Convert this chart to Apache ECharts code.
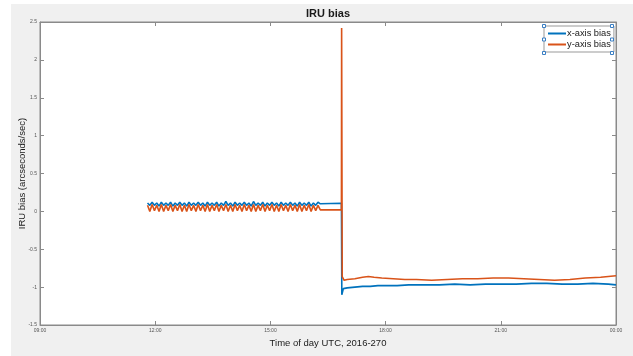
<!DOCTYPE html>
<html>
<head>
<meta charset="utf-8">
<script src="https://cdn.jsdelivr.net/npm/echarts@6/dist/echarts.min.js"></script>
<style>
  html, body { margin: 0; padding: 0; background: #fff; }
  #main { width: 622px; height: 352px; background: #f0f0f0; border-left: 11px solid #fff; border-top: 4px solid #fff; }
</style>
</head>
<body>
<div id="main"></div>
<script>
// hours of day (2016-270), oscillating part before the event
var hoursOsc = [11.80, 11.86, 11.92, 11.98, 12.04, 12.10, 12.16, 12.22, 12.28, 12.34,
  12.40, 12.46, 12.52, 12.58, 12.64, 12.70, 12.76, 12.82, 12.88, 12.94,
  13.00, 13.06, 13.12, 13.18, 13.24, 13.30, 13.36, 13.42, 13.48, 13.54,
  13.60, 13.66, 13.72, 13.78, 13.84, 13.90, 13.96, 14.02, 14.08, 14.14,
  14.20, 14.26, 14.32, 14.38, 14.44, 14.50, 14.56, 14.62, 14.68, 14.74,
  14.80, 14.86, 14.92, 14.98, 15.04, 15.10, 15.16, 15.22, 15.28, 15.34,
  15.40, 15.46, 15.52, 15.58, 15.64, 15.70, 15.76, 15.82, 15.88, 15.94,
  16.00, 16.06, 16.12, 16.18, 16.24, 16.30];
var xBiasOsc = [0.11, 0.08, 0.12, 0.08, 0.11, 0.07, 0.12, 0.08, 0.11, 0.08,
  0.12, 0.07, 0.11, 0.08, 0.12, 0.08, 0.11, 0.07, 0.12, 0.08,
  0.11, 0.08, 0.12, 0.08, 0.11, 0.07, 0.12, 0.08, 0.11, 0.08,
  0.12, 0.07, 0.11, 0.08, 0.13, 0.08, 0.11, 0.07, 0.12, 0.08,
  0.11, 0.08, 0.12, 0.08, 0.11, 0.07, 0.13, 0.08, 0.11, 0.08,
  0.12, 0.07, 0.11, 0.08, 0.12, 0.08, 0.11, 0.07, 0.12, 0.08,
  0.11, 0.08, 0.12, 0.08, 0.11, 0.07, 0.12, 0.08, 0.11, 0.08,
  0.12, 0.07, 0.11, 0.08, 0.12, 0.10];
var yBiasOsc = [0.08, 0.00, 0.09, 0.01, 0.08, 0.00, 0.09, 0.00, 0.08, 0.01,
  0.09, 0.00, 0.08, 0.01, 0.09, 0.00, 0.08, 0.00, 0.09, 0.01,
  0.08, 0.00, 0.09, 0.01, 0.08, 0.00, 0.09, 0.00, 0.08, 0.01,
  0.09, 0.00, 0.08, 0.01, 0.09, 0.00, 0.08, 0.00, 0.09, 0.01,
  0.08, 0.00, 0.09, 0.01, 0.08, 0.00, 0.09, 0.00, 0.08, 0.01,
  0.09, 0.00, 0.08, 0.01, 0.09, 0.00, 0.08, 0.00, 0.09, 0.01,
  0.08, 0.00, 0.09, 0.01, 0.08, 0.00, 0.09, 0.00, 0.08, 0.01,
  0.09, 0.00, 0.08, 0.01, 0.08, 0.02];

// flat hold, event at ~16:51 and the settled part after it
var hoursX = [16.30, 16.85, 16.86, 16.90, 17.00, 17.20, 17.40, 17.60, 17.80, 18.00,
  18.30, 18.60, 19.00, 19.40, 19.80, 20.20, 20.60, 21.00, 21.40, 21.80,
  22.20, 22.60, 23.00, 23.40, 23.80, 24.00];
var xBiasLate = [0.107, 0.107, -1.10, -1.02, -1.01, -1.00, -0.99, -0.99, -0.98, -0.98,
  -0.98, -0.97, -0.97, -0.97, -0.96, -0.97, -0.96, -0.96, -0.96, -0.95,
  -0.95, -0.96, -0.96, -0.95, -0.96, -0.97];
var hoursY = [16.30, 16.85, 16.855, 16.87, 16.92, 17.00, 17.20, 17.40, 17.55, 17.70,
  17.90, 18.20, 18.50, 18.80, 19.20, 19.60, 20.00, 20.40, 20.80, 21.20,
  21.60, 22.00, 22.40, 22.80, 23.20, 23.60, 24.00];
var yBiasLate = [0.02, 0.02, 2.42, -0.86, -0.91, -0.90, -0.89, -0.87, -0.86, -0.87,
  -0.88, -0.89, -0.90, -0.90, -0.91, -0.90, -0.89, -0.89, -0.88, -0.88,
  -0.89, -0.90, -0.91, -0.90, -0.88, -0.87, -0.85];

var seriesNames = ['x-axis bias', 'y-axis bias'];

function pairs(h, v) {
  return h.map(function (t, i) { return [t, v[i]]; });
}

var xData = pairs(hoursOsc, xBiasOsc).concat(pairs(hoursX, xBiasLate));
var yData = pairs(hoursOsc, yBiasOsc).concat(pairs(hoursY, yBiasLate));

function hhmm(v) {
  var h = v % 24;
  return (h < 10 ? '0' : '') + h + ':00';
}

var axisGray = '#8a8a8a';
var font = 'Liberation Sans, Arial, sans-serif';

// little selection handles round the legend box (matlab edit mode look)
var handlePos = [[533, 22], [601, 22], [533, 35.5], [601, 35.5], [533, 49], [601, 49]];
var handles = handlePos.map(function (p) {
  return {
    type: 'rect',
    shape: { x: p[0] - 1.5, y: p[1] - 1.5, width: 3, height: 3 },
    style: { fill: '#fff', stroke: '#3a7fc4', lineWidth: 1 },
    z: 100
  };
});

var option = {
  animation: false,
  textStyle: { fontFamily: font },
  title: {
    text: 'IRU bias',
    left: 317,
    top: 4,
    padding: 0,
    textAlign: 'center',
    textStyle: { fontSize: 11, fontWeight: 'bold', color: '#1a1a1a', fontFamily: font }
  },
  legend: {
    data: seriesNames,
    orient: 'vertical',
    left: 533,
    top: 22,
    padding: [3, 3, 3, 4],
    itemGap: 2,
    itemWidth: 18,
    itemHeight: 2,
    icon: 'rect',
    backgroundColor: '#fff',
    borderColor: '#999',
    borderWidth: 1,
    textStyle: { fontSize: 9.3, color: '#1a1a1a', padding: [0, 0, 0, -4], fontFamily: font }
  },
  graphic: handles,
  grid: {
    left: 29, right: 17, top: 18, bottom: 31,
    outerBoundsMode: 'none',
    containLabel: false,
    show: true,
    backgroundColor: '#fff',
    borderColor: axisGray,
    borderWidth: 1
  },
  xAxis: [{
    type: 'value',
    min: 9, max: 24, interval: 3,
    name: 'Time of day UTC, 2016-270',
    nameLocation: 'middle',
    nameGap: 12,
    nameTextStyle: { fontSize: 9.5, color: '#1a1a1a', fontFamily: font },
    axisLine: { onZero: false, lineStyle: { color: axisGray } },
    axisTick: { inside: true, length: 4, lineStyle: { color: axisGray } },
    axisLabel: { fontSize: 5, color: '#555', margin: 3, formatter: hhmm, showMinLabel: true, showMaxLabel: true },
    splitLine: { show: false }
  }, {
    type: 'value',
    position: 'top',
    min: 9, max: 24, interval: 3,
    axisLine: { onZero: false, lineStyle: { color: axisGray } },
    axisTick: { inside: true, length: 4, lineStyle: { color: axisGray } },
    axisLabel: { show: false },
    splitLine: { show: false }
  }],
  yAxis: [{
    type: 'value',
    min: -1.5, max: 2.5, interval: 0.5,
    name: 'IRU bias (arcseconds/sec)',
    nameLocation: 'middle',
    nameGap: 13,
    nameMoveOverlap: false,
    nameTextStyle: { fontSize: 9.5, color: '#1a1a1a', fontFamily: font },
    axisLine: { show: true, onZero: false, lineStyle: { color: axisGray } },
    axisTick: { show: true, inside: true, length: 4, lineStyle: { color: axisGray } },
    axisLabel: { fontSize: 5, color: '#555', margin: 3 },
    splitLine: { show: false }
  }, {
    type: 'value',
    position: 'right',
    min: -1.5, max: 2.5, interval: 0.5,
    axisLine: { show: true, onZero: false, lineStyle: { color: axisGray } },
    axisTick: { show: true, inside: true, length: 4, lineStyle: { color: axisGray } },
    axisLabel: { show: false },
    splitLine: { show: false }
  }],
  series: [{
    name: seriesNames[0],
    type: 'line',
    data: xData,
    showSymbol: false,
    color: '#0072BD',
    lineStyle: { width: 1.6 }
  }, {
    name: seriesNames[1],
    type: 'line',
    data: yData,
    showSymbol: false,
    color: '#D95319',
    lineStyle: { width: 1.6 }
  }]
};

var chart = echarts.init(document.getElementById('main'));
chart.setOption(option);
</script>
</body>
</html>
